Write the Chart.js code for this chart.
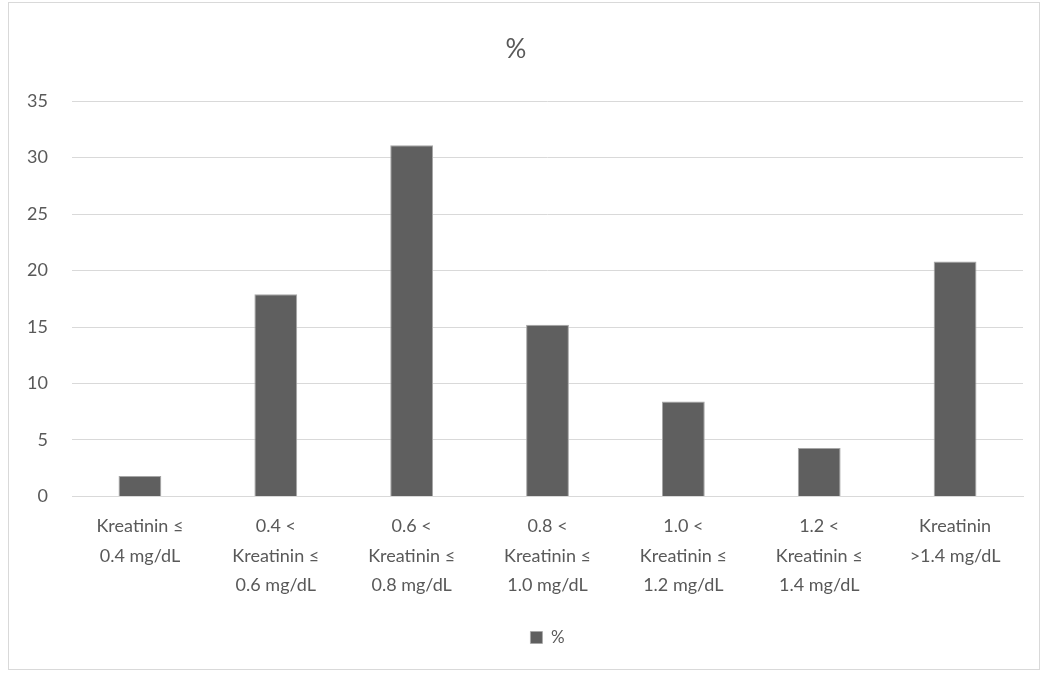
<!DOCTYPE html>
<html lang="en">
<head>
    <meta charset="UTF-8">
    <title>Kreatinin</title>
    <script src="https://cdn.jsdelivr.net/npm/chart.js"></script>
    <style>
        body { margin: 0; background: #fff; }
        #wrap {
            position: absolute; left: 8px; top: 2px;
            width: 1032px; height: 668px;
            border: 1px solid #d9d9d9; box-sizing: border-box;
        }
    </style>
</head>
<body>
    <div id="wrap"><canvas id="chart"></canvas></div>

    <script>
        // categories (multi-line tick labels) and values
        const categories = [
            ['Kreatinin \u2264', '0.4 mg/dL'],
            ['0.4 <', 'Kreatinin \u2264', '0.6 mg/dL'],
            ['0.6 <', 'Kreatinin \u2264', '0.8 mg/dL'],
            ['0.8 <', 'Kreatinin \u2264', '1.0 mg/dL'],
            ['1.0 <', 'Kreatinin \u2264', '1.2 mg/dL'],
            ['1.2 <', 'Kreatinin \u2264', '1.4 mg/dL'],
            ['Kreatinin', '>1.4 mg/dL']
        ];
        const percentValues = [1.8, 17.9, 31.1, 15.2, 8.4, 4.3, 20.8];
        const yTicks = [0, 5, 10, 15, 20, 25, 30, 35];

        const textColor = '#595959';
        const fontFamily = 'Lato, "Open Sans", sans-serif';

        const ctx = document.getElementById('chart').getContext('2d');
        new Chart(ctx, {
            type: 'bar',
            data: {
                labels: categories,
                datasets: [{
                    label: '%',
                    data: percentValues,
                    backgroundColor: '#5f5f5f',
                    borderColor: '#a6a6a6',
                    borderWidth: { top: 1, left: 1, right: 1, bottom: 0 },
                    barPercentage: 0.315,
                    categoryPercentage: 1.0
                }]
            },
            options: {
                responsive: true,
                maintainAspectRatio: false,
                animation: false,
                layout: { padding: { left: 0, right: 16, top: 18, bottom: 13 } },
                plugins: {
                    title: {
                        display: true,
                        text: '%',
                        color: textColor,
                        font: { family: fontFamily, size: 26, weight: 'normal' },
                        padding: { top: 13, bottom: 36 }
                    },
                    legend: {
                        position: 'bottom',
                        fullSize: false,
                        labels: {
                            color: textColor,
                            font: { family: fontFamily, size: 17 },
                            boxWidth: 12,
                            boxHeight: 12,
                            padding: 22
                        }
                    },
                    tooltip: { enabled: false }
                },
                scales: {
                    x: {
                        grid: { display: false },
                        border: { color: '#d9d9d9' },
                        ticks: {
                            color: textColor,
                            font: { family: fontFamily, size: 18, lineHeight: 1.64 },
                            autoSkip: false,
                            maxRotation: 0,
                            padding: 7
                        }
                    },
                    y: {
                        min: 0,
                        max: 35,
                        afterBuildTicks: (axis) => {
                            axis.ticks = yTicks.map(v => ({ value: v }));
                        },
                        afterFit: (axis) => { axis.width = 63; },
                        grid: { color: '#d9d9d9', drawTicks: false },
                        border: { display: false },
                        ticks: {
                            color: textColor,
                            font: { family: fontFamily, size: 18 },
                            padding: 24
                        }
                    }
                }
            }
        });
    </script>
</body>
</html>
